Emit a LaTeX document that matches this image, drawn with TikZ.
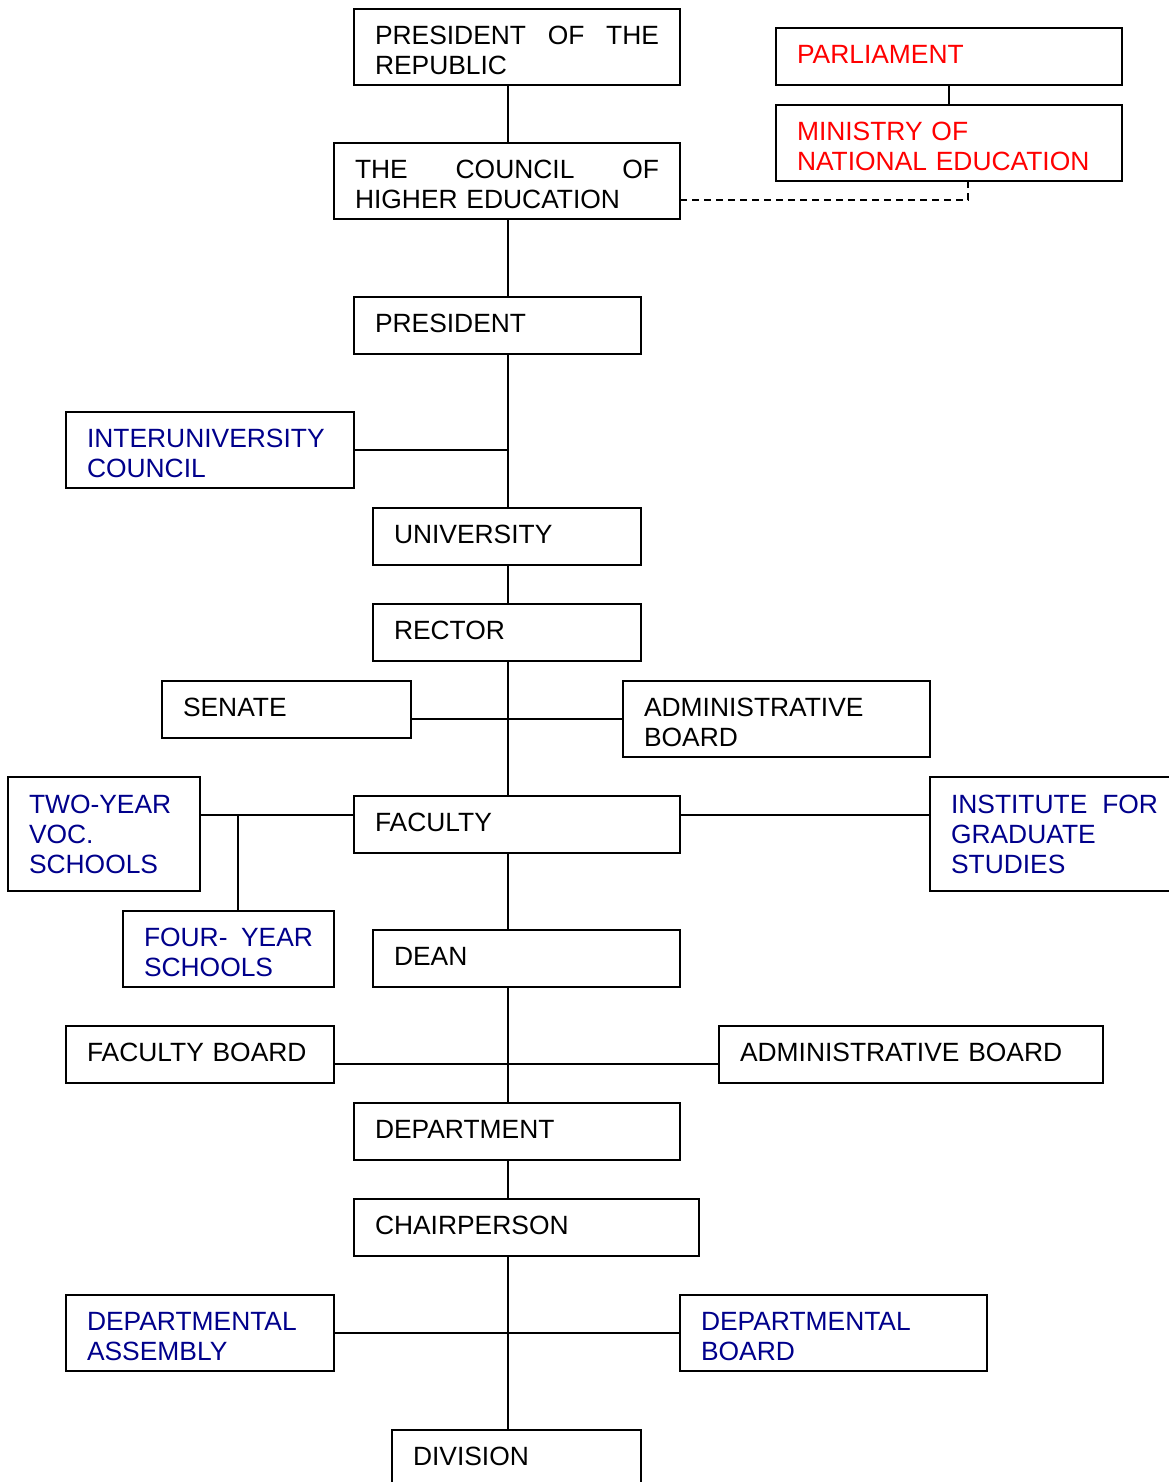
\documentclass[tikz,border=0pt]{standalone}
\usepackage{fontspec}
\setmainfont{Liberation Sans}
\definecolor{navy}{RGB}{0,0,139}

\begin{document}
\begin{tikzpicture}
        [x=0.5pt,y=-0.5pt,line width=0.9pt,
         every node/.style={draw,anchor=north west,align=left,inner xsep=10.5pt,inner ysep=0pt,outer sep=0pt,font=\fontsize{13.2pt}{15pt}\selectfont},
         redtext/.style={text=red}, bluetext/.style={text=navy},
         short/.style={minimum height=28.5pt,text height=9.45pt,text depth=2pt},
         tall/.style={minimum height=38pt,text height=9.45pt,text depth=11.5pt},
         taller/.style={minimum height=57pt,text height=9.45pt,text depth=30pt}]

        \useasboundingbox (0,0) rectangle (1168,1482);

        \node[tall, text width=142pt] (republic) at (354,9) {PRESIDENT\hfill OF\hfill THE\\REPUBLIC};
        \node[short, redtext, text width=152pt] (parliament) at (776,28) {PARLIAMENT};
        \node[tall, redtext, text width=152pt] (ministry) at (776,105) {MINISTRY OF\\NATIONAL EDUCATION};
        \node[tall, text width=152pt] (council) at (334,143) {THE\hfill COUNCIL\hfill OF\\HIGHER EDUCATION};
        \node[short, text width=122.5pt] (president) at (354,297) {PRESIDENT};
        \node[tall, bluetext, text width=123pt] (interuni) at (66,412) {INTERUNIVERSITY\\COUNCIL};
        \node[short, text width=113pt] (university) at (373,508) {UNIVERSITY};
        \node[short, text width=113pt] (rector) at (373,604) {RECTOR};
        \node[short, text width=103.5pt] (senate) at (162,681) {SENATE};
        \node[tall, text width=132.5pt] (adminboard) at (623,681) {ADMINISTRATIVE\\BOARD};
        \node[taller, bluetext, text width=75pt] (twoyear) at (8,777) {TWO-YEAR\\VOC.\\SCHOOLS};
        \node[short, text width=142pt] (faculty) at (354,796) {FACULTY};
        \node[taller, bluetext, text width=103.5pt] (institute) at (930,777) {INSTITUTE\hfill FOR\\GRADUATE\\STUDIES};
        \node[tall, bluetext, text width=84.5pt] (fouryear) at (123,911) {FOUR-\hfill YEAR\\SCHOOLS};
        \node[short, text width=132.5pt] (dean) at (373,930) {DEAN};
        \node[short, text width=113pt] (facultyboard) at (66,1026) {FACULTY BOARD};
        \node[short, text width=171pt] (adminboardb) at (719,1026) {ADMINISTRATIVE BOARD};
        \node[short, text width=142pt] (department) at (354,1103) {DEPARTMENT};
        \node[short, text width=151.5pt] (chair) at (354,1199) {CHAIRPERSON};
        \node[tall, bluetext, text width=113pt] (assembly) at (66,1295) {DEPARTMENTAL\\ASSEMBLY};
        \node[tall, bluetext, text width=132.5pt] (deptboard) at (680,1295) {DEPARTMENTAL\\BOARD};
        \node[short, text width=103.5pt] (division) at (392,1430) {DIVISION};

        \coordinate (spine) at (508,0);
        \coordinate (facultyrow) at (0,815);
        \coordinate (fourjoin) at (238,815);
        \coordinate (boardrow) at (0,1064);
        \coordinate (dashend) at (968,200);

        \draw (republic.south -| spine) -- (council.north -| spine);
        \draw (council.south -| spine) -- (president.north -| spine);
        \draw (president.south -| spine) -- (university.north -| spine);
        \draw (interuni.east) -- (interuni.east -| spine);
        \draw (university.south -| spine) -- (rector.north -| spine);
        \draw (rector.south -| spine) -- (faculty.north -| spine);
        \draw (senate.east |- adminboard.west) -- (adminboard.west);
        \draw (twoyear.east |- facultyrow) -- (faculty.west |- facultyrow);
        \draw (fourjoin) -- (fourjoin |- fouryear.north);
        \draw (faculty.east |- facultyrow) -- (institute.west |- facultyrow);
        \draw (faculty.south -| spine) -- (dean.north -| spine);
        \draw (dean.south -| spine) -- (department.north -| spine);
        \draw (facultyboard.east |- boardrow) -- (adminboardb.west |- boardrow);
        \draw (department.south -| spine) -- (chair.north -| spine);
        \draw (chair.south -| spine) -- (division.north -| spine);
        \draw (assembly.east) -- (deptboard.west);
        \draw (parliament.south) -- (ministry.north);
        \draw[dash pattern=on 3.5pt off 2.5pt] (council.east |- dashend) -- (dashend) -- (dashend |- ministry.south);
      \end{tikzpicture}
\end{document}
